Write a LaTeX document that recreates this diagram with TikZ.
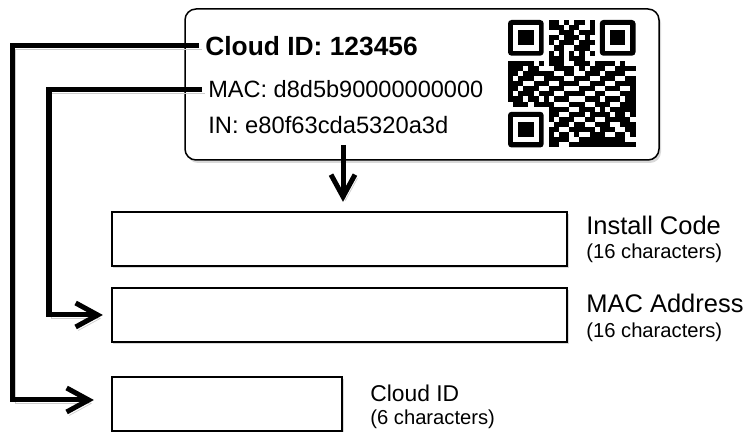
\documentclass[tikz,border=0pt]{standalone}
\usepackage{fontspec}
\setmainfont{Liberation Sans}
\usetikzlibrary{arrows.meta,shadows}

\tikzset{
  card/.style={draw, line width=0.03cm, rounded corners=0.22cm, fill=white,
    drop shadow={shadow xshift=0.04cm, shadow yshift=-0.06cm, opacity=0.3}},
  field/.style={draw, line width=0.045cm, fill=white,
    drop shadow={shadow xshift=0.03cm, shadow yshift=-0.05cm, opacity=0.3}},
  tag/.style={anchor=west, inner sep=0.12cm},
  note/.style={anchor=west, inner sep=0pt},
  conn/.style={line width=0.1cm, -{Straight Barb[length=0.44cm,width=0.48cm]},
    preaction={draw=black!20, transform canvas={shift={(0.05cm,-0.07cm)}}}}
}

\begin{document}
\begin{tikzpicture}
\useasboundingbox (0,0) rectangle (15,8.64);

% label on the device
\node[card, minimum width=9.48cm, minimum height=3.02cm] (card) at (8.44,6.95) {};
\node[tag, font=\bfseries\fontsize{15}{18}\selectfont] (cloudtxt) at (3.98,7.72) {Cloud ID: 123456};
\node[tag, font=\fontsize{13.4}{16}\selectfont] (mactxt) at (4.04,6.85) {MAC: d8d5b90000000000};
\node[tag, font=\fontsize{13.5}{16}\selectfont] (intxt) at (4.04,6.13) {IN: e80f63cda5320a3d};

% QR code
\begin{scope}[shift={(10.16,8.24)}, x=0.102cm, y=-0.102cm]
\foreach \fx/\fy in {0/0, 18/0, 0/18} {
  \fill[rounded corners=0.07cm] (\fx,\fy) rectangle ++(7,7);
  \fill[white] (\fx+1,\fy+1) rectangle ++(5,5);
  \fill (\fx+2,\fy+2) rectangle ++(3,3);
}
\foreach \r/\cols in {
  0/{8,9,11,13,14,16}, 1/{8,9,10,12,13,16}, 2/{10,11,12,14,15,16},
  3/{8,9,11,12,13,15}, 4/{8,10,11,12,14,15,16}, 5/{9,10,13,14,15},
  6/{8,10,12,14,16}, 7/{8,9,10,12,13,14},
  8/{0,1,2,3,4,6,8,9,10,13,14,15,17,18,19,20,22},
  9/{0,1,2,4,5,9,10,11,12,14,16,17,18,21,22,23,24},
  10/{0,1,3,4,5,6,7,8,11,12,15,16,17,19,20,21,22},
  11/{0,2,3,4,7,8,9,10,13,14,15,18,19,20,23,24},
  12/{0,1,2,5,6,7,10,11,12,13,16,17,18,21,22,23,24},
  13/{0,1,3,4,5,8,9,10,14,15,16,19,20,21,24},
  14/{0,2,3,4,6,7,8,11,12,13,14,17,18,22,23,24},
  15/{0,1,2,4,5,7,9,10,11,15,16,17,19,20,21,23,24},
  16/{1,2,3,5,6,7,8,12,13,14,17,18,19,22,23,24},
  17/{8,9,10,11,14,15,16,18,20,21,22,23,24},
  18/{8,9,12,13,14,16,17,18,19,21,22,24},
  19/{8,10,11,12,15,16,19,20,21,22,23},
  20/{9,10,11,13,14,17,18,19,22,23,24},
  21/{8,9,12,13,14,15,16,18,19,20,23,24},
  22/{8,10,11,13,16,17,18,21,22,24},
  23/{8,9,10,11,14,15,16,17,18,19,20,21,22},
  24/{8,9,12,13,14,15,16,17,18,19,20,21,22,23,24}}
  \foreach \c in \cols
    \fill (\c,\r) rectangle ++(1,1);
\end{scope}

% entry fields
\node[field, minimum width=9.10cm, minimum height=1.08cm] (installbox) at (6.79,3.86) {};
\node[field, minimum width=9.10cm, minimum height=1.08cm] (macbox) at (6.79,2.34) {};
\node[field, minimum width=4.60cm, minimum height=1.08cm] (cloudbox) at (4.54,0.56) {};

\node[note, font=\fontsize{14.5}{17}\selectfont] (installlbl) at (11.72,4.14) {Install Code};
\node[note, font=\fontsize{11.5}{14}\selectfont] (installsub) at (11.72,3.58) {(16 characters)};
\node[note, font=\fontsize{14.5}{17}\selectfont] (maclbl) at (11.72,2.58) {MAC Address};
\node[note, font=\fontsize{11.5}{14}\selectfont] (macsub) at (11.72,2.00) {(16 characters)};
\node[note, font=\fontsize{13}{16}\selectfont] (cloudlbl) at (7.40,0.78) {Cloud ID};
\node[note, font=\fontsize{11.5}{14}\selectfont] (cloudsub) at (7.40,0.26) {(6 characters)};

% connectors
\coordinate (outer) at (0.26,0);
\coordinate (inner) at (0.98,0);
\coordinate (drop) at (6.86,5.74);
\draw[conn, shorten >=0.18cm] (drop) -- (drop |- installbox.north);
\draw[conn, shorten >=0.16cm] (mactxt.west) -- (mactxt.west -| inner) |- (macbox.west);
\draw[conn, shorten >=0.34cm] (cloudtxt.west) -- (cloudtxt.west -| outer) |- ([yshift=0.08cm]cloudbox.west);
\end{tikzpicture}
\end{document}
